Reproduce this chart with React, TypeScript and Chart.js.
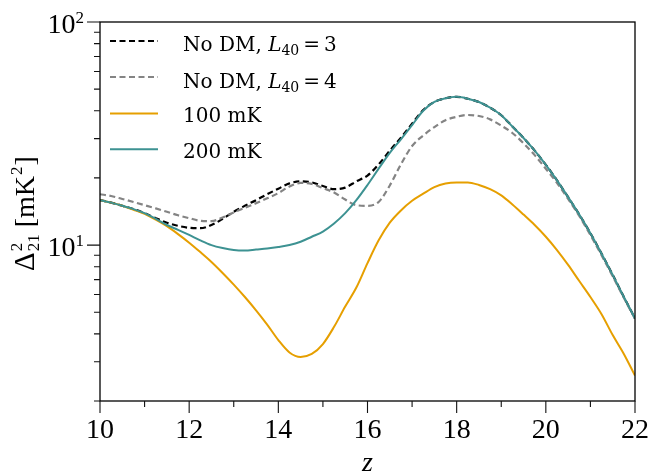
import { useEffect, useRef } from 'react';
import { Chart, registerables } from 'chart.js';

Chart.register(...registerables);

// Redshift grid shared by every curve
const redshift = [
  10, 10.25, 10.5, 10.75, 11, 11.25, 11.5, 11.75, 12, 12.25, 12.5, 12.75,
  13, 13.25, 13.5, 13.75, 14, 14.25, 14.5, 14.75, 15, 15.25, 15.5, 15.75,
  16, 16.25, 16.5, 16.75, 17, 17.25, 17.5, 17.75, 18, 18.25, 18.5, 18.75,
  19, 19.25, 19.5, 19.75, 20, 20.25, 20.5, 20.75, 21, 21.25, 21.5, 21.75, 22,
];

// Power spectrum Δ²₂₁ in mK²
const noDmL40eq3 = [
  15.9, 15.5, 15.0, 14.5, 13.9, 13.2, 12.6, 12.2, 11.95, 11.9, 12.3, 13.1,
  14.1, 15.0, 15.9, 16.9, 17.9, 18.9, 19.3, 19.1, 18.4, 17.8, 18.1, 19.3,
  20.5, 23.0, 26.5, 30.3, 35.0, 40.3, 43.8, 45.5, 46.2, 45.3, 43.8, 41.3,
  38.2, 34.0, 30.2, 26.5, 22.9, 19.5, 16.4, 13.7, 11.3, 9.15, 7.35, 5.85, 4.69,
];
const noDmL40eq4 = [
  16.9, 16.6, 16.1, 15.6, 15.1, 14.6, 14.1, 13.6, 13.2, 12.85, 12.8, 13.3,
  14.0, 14.7, 15.4, 16.2, 17.1, 18.3, 19.0, 18.8, 18.0, 17.2, 16.0, 15.1,
  15.0, 15.6, 18.5, 23.0, 27.8, 31.0, 33.8, 36.3, 37.6, 38.3, 37.9, 36.6,
  34.3, 31.8, 28.6, 25.3, 22.0, 19.0, 16.1, 13.5, 11.1, 9.0, 7.25, 5.8, 4.67,
];
const dm100mK = [
  15.9, 15.5, 15.0, 14.4, 13.8, 13.0, 12.15, 11.2, 10.25, 9.3, 8.4, 7.5,
  6.65, 5.85, 5.1, 4.4, 3.75, 3.3, 3.15, 3.25, 3.6, 4.3, 5.3, 6.45,
  8.3, 10.5, 12.6, 14.3, 15.8, 17.0, 18.2, 18.9, 19.1, 19.1, 18.6, 17.8,
  16.7, 15.2, 13.7, 12.3, 10.9, 9.5, 8.15, 6.9, 5.85, 4.9, 3.95, 3.25, 2.6,
];
const dm200mK = [
  15.9, 15.5, 15.0, 14.5, 13.9, 13.1, 12.3, 11.7, 11.1, 10.5, 10.0, 9.7,
  9.5, 9.45, 9.55, 9.65, 9.8, 10.0, 10.35, 10.9, 11.5, 12.5, 13.9, 15.9,
  18.6, 22.0, 25.9, 29.8, 34.5, 40.0, 43.8, 45.5, 46.2, 45.3, 43.8, 41.3,
  38.2, 34.0, 30.2, 26.5, 22.9, 19.5, 16.4, 13.7, 11.3, 9.15, 7.35, 5.85, 4.69,
];

// Axis ticks
const xMajorTicks = [10, 12, 14, 16, 18, 20, 22];
const xMinorTicks = [11, 13, 15, 17, 19, 21];
const yMajorTicks = [10, 100];
const yMajorExponents = ['1', '2'];
const yMinorTicks = [2, 3, 4, 5, 6, 7, 8, 9, 20, 30, 40, 50, 60, 70, 80, 90];

// Legend entries: [roman text, italic symbol, subscript, trailing text]
const legendEntries: [string, string, string, string][] = [
  ['No DM, ', 'L', '40', '\u2009=\u20093'],
  ['No DM, ', 'L', '40', '\u2009=\u20094'],
  ['100 mK', '', '', ''],
  ['200 mK', '', '', ''],
];

const SERIF = '"Liberation Serif", serif';
const LEGEND_FONT = '"DejaVu Serif", serif';

const pts = (ys: number[]) => redshift.map((z, i) => ({ x: z, y: ys[i] }));

const paperAxes = {
  id: 'paperAxes',
  afterDraw(chart: any) {
    const { ctx, chartArea: a, scales } = chart;
    const xs = scales.x;
    const ys = scales.y;
    ctx.save();

    // frame
    ctx.strokeStyle = '#000';
    ctx.lineWidth = 1.3;
    ctx.strokeRect(a.left, a.top, a.right - a.left, a.bottom - a.top);

    // tick marks (outward, bottom and left only)
    ctx.strokeStyle = '#111';
    ctx.lineWidth = 1.1;
    ctx.beginPath();
    const xTick = (v: number, len: number) => {
      const px = xs.getPixelForValue(v);
      ctx.moveTo(px, a.bottom);
      ctx.lineTo(px, a.bottom + len);
    };
    const yTick = (v: number, len: number) => {
      const py = ys.getPixelForValue(v);
      ctx.moveTo(a.left, py);
      ctx.lineTo(a.left - len, py);
    };
    xMajorTicks.forEach((v) => xTick(v, 12));
    xMinorTicks.forEach((v) => xTick(v, 6));
    yMajorTicks.forEach((v) => yTick(v, 13));
    yMinorTicks.forEach((v) => yTick(v, 6));
    ctx.stroke();

    // x tick labels
    ctx.fillStyle = '#000';
    ctx.font = `28px ${SERIF}`;
    ctx.textAlign = 'center';
    ctx.textBaseline = 'alphabetic';
    xMajorTicks.forEach((v) => {
      ctx.fillText(String(v), xs.getPixelForValue(v), a.bottom + 37);
    });

    // y tick labels as 10^n
    yMajorTicks.forEach((v, i) => {
      const py = ys.getPixelForValue(v);
      ctx.font = `17px ${SERIF}`;
      ctx.textAlign = 'right';
      const exp = yMajorExponents[i];
      const ew = ctx.measureText(exp).width;
      const right = a.left - 16;
      ctx.fillText(exp, right, py + 1);
      ctx.font = `28px ${SERIF}`;
      ctx.fillText('10', right - ew, py + 11);
    });

    // x axis title
    ctx.font = `italic 28px ${SERIF}`;
    ctx.textAlign = 'center';
    ctx.fillText('z', (a.left + a.right) / 2, a.bottom + 70);

    // y axis title: Δ²₂₁ [mK²]
    ctx.save();
    ctx.translate(34, 271);
    ctx.rotate(-Math.PI / 2);
    ctx.textAlign = 'left';
    let cx = 0;
    ctx.font = `29px ${SERIF}`;
    ctx.fillText('\u0394', cx, 0);
    cx += ctx.measureText('\u0394').width + 1;
    ctx.font = `17px ${SERIF}`;
    ctx.fillText('2', cx, -12);
    ctx.fillText('21', cx, 5);
    cx += ctx.measureText('21').width;
    ctx.font = `28px ${SERIF}`;
    ctx.fillText(' [mK', cx, 0);
    cx += ctx.measureText(' [mK').width;
    ctx.font = `17px ${SERIF}`;
    ctx.fillText('2', cx + 1, -12);
    cx += ctx.measureText('2').width + 2;
    ctx.font = `28px ${SERIF}`;
    ctx.fillText(']', cx, 0);
    ctx.restore();

    // legend
    const rowY = [41, 77, 113.5, 149.3];
    const baseOff = [10, 10.5, 8.5, 8.5];
    const datasets = chart.data.datasets;
    legendEntries.forEach((entry, i) => {
      const ds = datasets[i];
      const y = rowY[i];
      ctx.save();
      ctx.strokeStyle = ds.borderColor;
      ctx.lineWidth = ds.borderWidth;
      ctx.setLineDash(ds.borderDash || []);
      ctx.beginPath();
      ctx.moveTo(a.left + 10, y);
      ctx.lineTo(a.left + 58, y);
      ctx.stroke();
      ctx.restore();

      const [roman, sym, sub, tail] = entry;
      const by = y + baseOff[i];
      let tx = a.left + 83;
      ctx.fillStyle = '#000';
      ctx.textAlign = 'left';
      ctx.font = `20px ${LEGEND_FONT}`;
      ctx.fillText(roman, tx, by);
      tx += ctx.measureText(roman).width;
      if (sym) {
        ctx.font = `italic 20px ${LEGEND_FONT}`;
        ctx.fillText(sym, tx, by);
        tx += ctx.measureText(sym).width;
        ctx.font = `14px ${LEGEND_FONT}`;
        ctx.fillText(sub, tx, by + 4);
        tx += ctx.measureText(sub).width;
        ctx.font = `20px ${LEGEND_FONT}`;
        ctx.fillText(tail, tx, by);
      }
    });

    ctx.restore();
  },
};

export default function App() {
  const canvasRef = useRef<HTMLCanvasElement | null>(null);

  useEffect(() => {
    document.body.style.margin = '0';
    const canvas = canvasRef.current;
    if (!canvas) return;

    const common = {
      pointRadius: 0,
      cubicInterpolationMode: 'monotone' as const,
    };

    const chart = new Chart(canvas, {
      type: 'line',
      data: {
        datasets: [
          {
            ...common,
            label: 'No DM, L40 = 3',
            data: pts(noDmL40eq3),
            borderColor: '#000000',
            borderDash: [6, 3.5],
            borderWidth: 2.2,
            order: 3,
          },
          {
            ...common,
            label: 'No DM, L40 = 4',
            data: pts(noDmL40eq4),
            borderColor: '#848484',
            borderDash: [6, 3.5],
            borderWidth: 2.2,
            order: 2,
          },
          {
            ...common,
            label: '100 mK',
            data: pts(dm100mK),
            borderColor: '#E69F00',
            borderWidth: 2.0,
            order: 1,
          },
          {
            ...common,
            label: '200 mK',
            data: pts(dm200mK),
            borderColor: '#3D9292',
            borderWidth: 2.0,
            order: 0,
          },
        ],
      },
      options: {
        animation: false,
        responsive: false,
        devicePixelRatio: 1,
        layout: { padding: { top: 22, right: 17, left: 0, bottom: 0 } },
        plugins: {
          legend: { display: false },
          tooltip: { enabled: false },
        },
        scales: {
          x: {
            type: 'linear',
            min: 10,
            max: 22,
            grid: { display: false },
            border: { display: false },
            ticks: { display: false },
            afterFit: (s: any) => {
              s.height = 71;
            },
          },
          y: {
            type: 'logarithmic',
            min: 2,
            max: 100,
            grid: { display: false },
            border: { display: false },
            ticks: { display: false },
            afterFit: (s: any) => {
              s.width = 100;
            },
          },
        },
      },
      plugins: [paperAxes],
    });

    return () => chart.destroy();
  }, []);

  return (
    <div style={{ width: 652, height: 472, background: '#fff' }}>
      <canvas ref={canvasRef} width={652} height={472} />
    </div>
  );
}
